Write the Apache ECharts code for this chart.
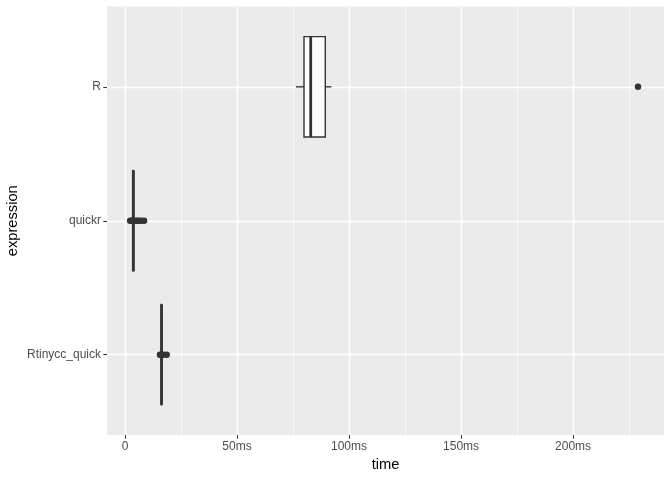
<!DOCTYPE html>
<html>
<head>
<meta charset="utf-8">
<script src="https://cdn.jsdelivr.net/npm/echarts@6/dist/echarts.min.js"></script>
<style>html,body{margin:0;padding:0;background:#fff}#c{width:672px;height:480px}</style>
</head>
<body>
<div id="c"></div>
<script>
// categories, bottom to top
const categories = ['Rtinycc_quick', 'quickr', 'R'];
// box stats in ms: [low whisker, Q1, median, Q3, high whisker]
const boxStats = [
  [16.0, 16.2, 16.3, 16.4, 16.6],
  [3.2, 3.5, 3.7, 3.9, 4.3],
  [76.3, 79.9, 82.9, 89.4, 92.1]
];
// outliers in ms per category
const outliers = [
  [15.6, 17.2, 18.6],
  [2.3, 2.8, 4.8, 5.5, 6.3, 7.3, 8.5],
  [229.0]
];
const xTicks = [0, 50, 100, 150, 200];
const xMinor = [25, 75, 125, 175, 225];
const xRange = [-8.04, 240.6];

const boxData = boxStats.map((s, i) => [i + 1].concat(s));
const outData = [];
outliers.forEach((arr, i) => arr.forEach(v => outData.push([v, i + 1])));

const dark = '#333333';
const chart = echarts.init(document.getElementById('c'), null, {renderer: 'canvas'});
const fontFamily = '"Liberation Sans", Arial, sans-serif';

chart.setOption({
  animation: false,
  grid: {left: 107, right: 8, top: 6.5, bottom: 45, backgroundColor: '#EBEBEB', show: true, borderWidth: 0,
    containLabel: false, outerBoundsMode: 'none'},
  xAxis: [{
    type: 'value', min: xRange[0], max: xRange[1],
    name: 'time', nameLocation: 'middle', nameGap: 22,
    nameTextStyle: {color: '#000', fontSize: 14.7, fontFamily},
    axisLine: {show: false, onZero: false},
    axisTick: {show: true, length: 3.7, lineStyle: {color: dark, width: 1.1}, customValues: xTicks},
    axisLabel: {color: '#4D4D4D', fontSize: 12, fontFamily, margin: 6, customValues: xTicks,
      formatter: v => v === 0 ? '0' : v + 'ms'},
    splitLine: {show: true, lineStyle: {color: '#FFFFFF', width: 1.4}}
  }, {
    type: 'value', min: xRange[0], max: xRange[1], position: 'bottom',
    axisLine: {show: false, onZero: false},
    axisTick: {show: false, customValues: xMinor},
    axisLabel: {show: false, customValues: xMinor},
    splitLine: {show: true, lineStyle: {color: '#FFFFFF', width: 0.7}}
  }],
  yAxis: {
    type: 'value', min: 0.4, max: 3.6,
    name: 'expression', nameLocation: 'middle', nameGap: 87, nameRotate: 90, nameMoveOverlap: false,
    nameTextStyle: {color: '#000', fontSize: 14.7, fontFamily},
    axisLine: {show: false, onZero: false},
    axisTick: {show: true, length: 3.7, lineStyle: {color: dark, width: 1.1}, customValues: [1, 2, 3]},
    axisLabel: {color: '#4D4D4D', fontSize: 12, fontFamily, margin: 6, customValues: [1, 2, 3],
      formatter: v => categories[Math.round(v) - 1] || ''},
    splitLine: {show: true, lineStyle: {color: '#FFFFFF', width: 1.4}}
  },
  series: [{
    type: 'custom',
    xAxisIndex: 0,
    data: boxData,
    encode: {y: 0, x: [1, 2, 3, 4, 5]},
    renderItem: function (params, api) {
      const y = api.value(0);
      const lo = api.value(1), q1 = api.value(2), med = api.value(3), q3 = api.value(4), hi = api.value(5);
      const half = api.size([0, 1])[1] * 0.75 / 2;
      const pLo = api.coord([lo, y]), pQ1 = api.coord([q1, y]), pMed = api.coord([med, y]);
      const pQ3 = api.coord([q3, y]), pHi = api.coord([hi, y]);
      const cy = pLo[1];
      const ls = {stroke: dark, lineWidth: 1.4, fill: null};
      return {
        type: 'group',
        children: [
          {type: 'line', shape: {x1: pLo[0], y1: cy, x2: pQ1[0], y2: cy}, style: ls},
          {type: 'line', shape: {x1: pQ3[0], y1: cy, x2: pHi[0], y2: cy}, style: ls},
          {type: 'rect', shape: {x: pQ1[0], y: cy - half, width: pQ3[0] - pQ1[0], height: 2 * half},
            style: {fill: '#FFFFFF', stroke: dark, lineWidth: 1.4}},
          {type: 'line', shape: {x1: pMed[0], y1: cy - half, x2: pMed[0], y2: cy + half},
            style: {stroke: dark, lineWidth: 2.8}}
        ]
      };
    }
  }, {
    type: 'scatter',
    xAxisIndex: 0,
    data: outData,
    symbol: 'circle',
    symbolSize: 6.5,
    itemStyle: {color: dark, opacity: 1},
    z: 3
  }]
});
</script>
</body>
</html>
